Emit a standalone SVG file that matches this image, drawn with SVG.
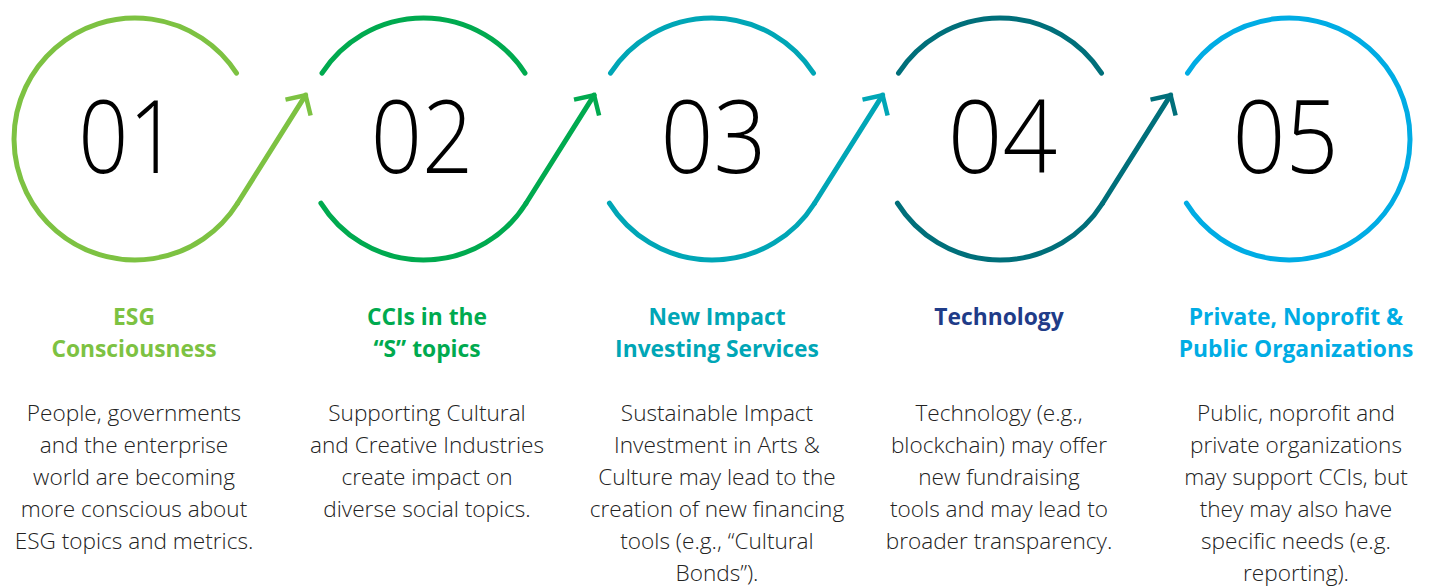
<svg xmlns="http://www.w3.org/2000/svg" xmlns:xlink="http://www.w3.org/1999/xlink" width="1429" height="586" viewBox="0 0 1429 586">
<style>
.arc{fill:none;stroke-width:5;stroke-linecap:round}
.con{fill:none;stroke-width:5;stroke-linecap:round}
.head{fill:none;stroke-width:4.5;stroke-linecap:butt;stroke-linejoin:miter}
.num{font-family:"Open Sans","Liberation Sans",sans-serif;font-weight:300;font-size:101px;fill:#000;text-anchor:middle}
.ttl{font-family:"Open Sans","Liberation Sans",sans-serif;font-weight:700;font-size:22.8px;text-anchor:middle}
.body{font-family:"Open Sans","Liberation Sans",sans-serif;font-weight:300;font-size:22.6px;fill:#222;text-anchor:middle}
.c1{stroke:#7DC242}.c2{stroke:#00AA4F}.c3{stroke:#00A6B6}.c4{stroke:#006F7A}.c5{stroke:#00ACE4}
</style>
<defs>
<path id="arcFirst" d="M101.5,-65.9 A121,121 0 1 0 102.4,64.5"/>
<path id="arcTop" d="M-101.5,-65.9 A121,121 0 0 1 101.5,-65.9"/>
<path id="arcBottom" d="M-102.6,64.1 A121,121 0 0 0 102.4,64.5"/>
<path id="arcLast" d="M-101.5,-65.9 A121,121 0 1 1 -102.6,64.1"/>
<path id="shaft" d="M102.4,64.5 L170.6,-43.8"/>
<path id="tip" d="M150.5,-39.4 L170.6,-43.8 L175.6,-23.5"/>
</defs>

<g id="node1">
<use xlink:href="#arcFirst" class="arc c1" transform="translate(135,139)"/>
<text class="num" transform="translate(128.5,173) scale(0.87,1)">01</text>
<text class="ttl" fill="#7DC242" x="134" y="325">ESG</text>
<text class="ttl" fill="#7DC242" x="134" y="357">Consciousness</text>
<text class="body"><tspan x="134" y="421">People, governments</tspan><tspan x="134" y="453">and the enterprise</tspan><tspan x="134" y="485">world are becoming</tspan><tspan x="134" y="517">more conscious about</tspan><tspan x="134" y="549">ESG topics and metrics.</tspan></text>
</g>

<g id="node2">
<use xlink:href="#arcTop" class="arc c2" transform="translate(423.5,139)"/>
<use xlink:href="#arcBottom" class="arc c2" transform="translate(423.5,139)"/>
<text class="num" transform="translate(422,173) scale(0.89,1)">02</text>
<text class="ttl" fill="#00AA4F" x="427" y="325">CCIs in the</text>
<text class="ttl" fill="#00AA4F" x="427" y="357">“S” topics</text>
<text class="body"><tspan x="427" y="421">Supporting Cultural</tspan><tspan x="427" y="453">and Creative Industries</tspan><tspan x="427" y="485">create impact on</tspan><tspan x="427" y="517">diverse social topics.</tspan></text>
</g>

<g id="node3">
<use xlink:href="#arcTop" class="arc c3" transform="translate(712,139)"/>
<use xlink:href="#arcBottom" class="arc c3" transform="translate(712,139)"/>
<text class="num" transform="translate(713.5,173) scale(0.92,1)">03</text>
<text class="ttl" fill="#00A6B6" x="717" y="325">New Impact</text>
<text class="ttl" fill="#00A6B6" x="717" y="357">Investing Services</text>
<text class="body"><tspan x="717" y="421">Sustainable Impact</tspan><tspan x="717" y="453">Investment in Arts &amp;</tspan><tspan x="717" y="485">Culture may lead to the</tspan><tspan x="717" y="517">creation of new financing</tspan><tspan x="717" y="549">tools (e.g., “Cultural</tspan><tspan x="717" y="581">Bonds”).</tspan></text>
</g>

<g id="node4">
<use xlink:href="#arcTop" class="arc c4" transform="translate(1000,139)"/>
<use xlink:href="#arcBottom" class="arc c4" transform="translate(1000,139)"/>
<text class="num" transform="translate(1002.5,173) scale(0.95,1)">04</text>
<text class="ttl" fill="#1F3C88" x="999" y="325">Technology</text>
<text class="body"><tspan x="999" y="421">Technology (e.g.,</tspan><tspan x="999" y="453">blockchain) may offer</tspan><tspan x="999" y="485">new fundraising</tspan><tspan x="999" y="517">tools and may lead to</tspan><tspan x="999" y="549">broader transparency.</tspan></text>
</g>

<g id="node5">
<use xlink:href="#arcLast" class="arc c5" transform="translate(1289,139)"/>
<text class="num" transform="translate(1285.5,173) scale(0.92,1)">05</text>
<text class="ttl" fill="#00ACE4" x="1296" y="325">Private, Noprofit &amp;</text>
<text class="ttl" fill="#00ACE4" x="1296" y="357">Public Organizations</text>
<text class="body"><tspan x="1296" y="421">Public, noprofit and</tspan><tspan x="1296" y="453">private organizations</tspan><tspan x="1296" y="485">may support CCIs, but</tspan><tspan x="1296" y="517">they may also have</tspan><tspan x="1296" y="549">specific needs (e.g.</tspan><tspan x="1296" y="581">reporting).</tspan></text>
</g>

<g id="connectors">
<g transform="translate(135,139)"><use xlink:href="#shaft" class="con c1"/><use xlink:href="#tip" class="head c1"/></g>
<g transform="translate(423.5,139)"><use xlink:href="#shaft" class="con c2"/><use xlink:href="#tip" class="head c2"/></g>
<g transform="translate(712,139)"><use xlink:href="#shaft" class="con c3"/><use xlink:href="#tip" class="head c3"/></g>
<g transform="translate(1000,139)"><use xlink:href="#shaft" class="con c4"/><use xlink:href="#tip" class="head c4"/></g>
</g>
</svg>
